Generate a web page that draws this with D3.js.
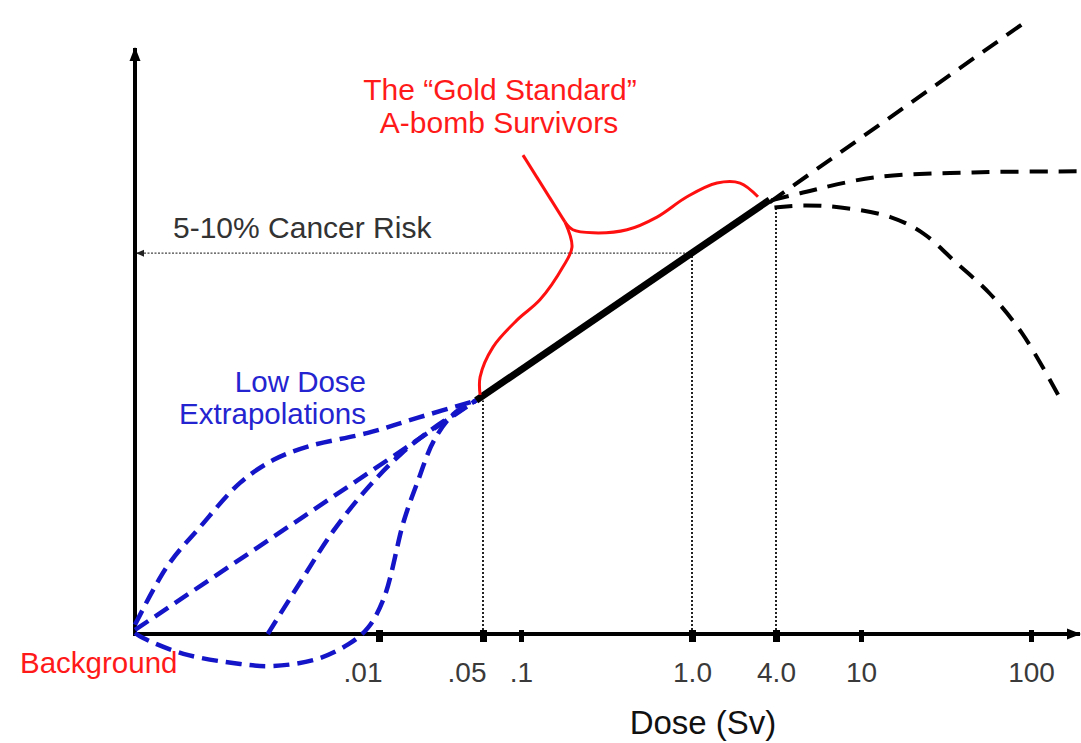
<!DOCTYPE html>
<html>
<head>
<meta charset="utf-8">
<script src="https://cdn.jsdelivr.net/npm/d3@7"></script>
<style>
    body { margin: 0; background: #fff; }
    text { font-family: "Liberation Sans", Arial, sans-serif; }
</style>
</head>
<body>
<div id="chart"></div>
<script>
// dose in Sv, risk in % excess cancer risk (schematic)
var doseTicks = [0.01, 0.05, 0.1, 1, 4, 10, 100];
var tickLabels = [".01", ".05", ".1", "1.0", "4.0", "10", "100"];
var backgroundDose = 0.001;
var riskLevel = 7.5;

var goldStandard = [[0.045, 4.6], [3.6, 8.55]];

var lowDoseSupraLinear = [[0.001, 0.18], [0.00135, 1.32], [0.00185, 2.11], [0.0027, 2.98], [0.0037, 3.43],
    [0.0051, 3.69], [0.009, 3.96], [0.0183, 4.26], [0.045, 4.6]];
var lowDoseLinear = [[0.001, 0.08], [0.045, 4.6]];
var lowDoseThreshold = [[0.0035, 0], [0.0048, 1.05], [0.0065, 2.03], [0.009, 2.88], [0.0141, 3.55],
    [0.0234, 4.06], [0.045, 4.6]];
var lowDoseHormesis = [[0.001, 0.02], [0.00108, -0.08], [0.00158, -0.39], [0.0027, -0.59], [0.0037, -0.63],
    [0.0056, -0.49], [0.0075, -0.2], [0.009, 0.12], [0.0108, 0.71], [0.0147, 2.23], [0.0183, 3.02],
    [0.0234, 3.81], [0.0319, 4.34], [0.045, 4.6]];

var highDoseLinear = [[3.6, 8.5], [97, 12.1]];
var highDosePlateau = [[3.7, 8.54], [5.2, 8.68], [11.9, 8.99], [45.4, 9.09], [193, 9.11]];
var highDoseCellKill = [[3.9, 8.4], [5.37, 8.44], [8.03, 8.4], [14.9, 8.21], [23.2, 7.89], [36.6, 7.3],
    [57, 6.71], [88.7, 5.92], [145.5, 4.69]];

var markerDoses = [0.05, 1.0, 4.0];
var markerRisks = [4.6, 7.5, 8.4];

// curly brace round the A-bomb survivor range
var braceTip = [[0.1027, 9.43], [0.181, 8.11]];
var braceLower = [[0.181, 8.11], [0.1987, 7.62], [0.176, 7.23], [0.129, 6.58], [0.0929, 6.18],
    [0.060, 5.65], [0.0478, 5.06], [0.0478, 4.71]];
var braceUpper = [[0.181, 8.11], [0.201, 7.96], [0.264, 7.9], [0.417, 7.96], [0.624, 8.21],
    [0.935, 8.61], [1.51, 8.88], [2.21, 8.88], [2.97, 8.61]];

function init() {
    var w = 1081;
    var h = 743;

    var svg = d3.select("#chart")
        .append("svg")
        .attr("width", w)
        .attr("height", h);

    var x = d3.scaleLog()
        .domain([backgroundDose].concat(doseTicks))
        .range([135, 379, 483, 521, 692, 776, 861, 1031]);
    var y = d3.scaleLinear()
        .domain([0, 11.5])
        .range([634, 50]);

    var defs = svg.append("defs");
    defs.append("marker")
        .attr("id", "arrow")
        .attr("markerUnits", "userSpaceOnUse")
        .attr("viewBox", "0 -6 14 12")
        .attr("refX", 13).attr("refY", 0)
        .attr("markerWidth", 14).attr("markerHeight", 12)
        .attr("orient", "auto")
        .append("path")
        .attr("d", "M0,-5.5L14,0L0,5.5Z")
        .attr("fill", "#000");
    defs.append("marker")
        .attr("id", "smallArrow")
        .attr("markerUnits", "userSpaceOnUse")
        .attr("viewBox", "0 -4 8 8")
        .attr("refX", 7).attr("refY", 0)
        .attr("markerWidth", 8).attr("markerHeight", 8)
        .attr("orient", "auto")
        .append("path")
        .attr("d", "M0,-3.5L8,0L0,3.5Z")
        .attr("fill", "#222");

    var line = d3.line()
        .x(function (d) { return x(d[0]); })
        .y(function (d) { return y(d[1]); });
    var smooth = d3.line()
        .x(function (d) { return x(d[0]); })
        .y(function (d) { return y(d[1]); })
        .curve(d3.curveCatmullRom.alpha(0.5));

    // dotted guide lines
    svg.append("line")
        .attr("x1", x(doseTicks[3])).attr("x2", x(backgroundDose) + 2)
        .attr("y1", y(riskLevel)).attr("y2", y(riskLevel))
        .attr("stroke", "#444").attr("stroke-width", 1.2)
        .attr("stroke-dasharray", "2,1.5")
        .attr("marker-end", "url(#smallArrow)");

    svg.selectAll(".guide")
        .data(markerDoses)
        .enter()
        .append("line")
        .attr("class", "guide")
        .attr("x1", function (d) { return x(d); })
        .attr("x2", function (d) { return x(d); })
        .attr("y1", y(0))
        .attr("y2", function (d, i) { return y(markerRisks[i]); })
        .attr("stroke", "#222").attr("stroke-width", 2)
        .attr("stroke-dasharray", "2,2");

    // axes
    svg.append("line")
        .attr("x1", x(backgroundDose)).attr("x2", x(backgroundDose))
        .attr("y1", y(0) + 2).attr("y2", 48)
        .attr("stroke", "#000").attr("stroke-width", 4)
        .attr("marker-end", "url(#arrow)");
    svg.append("line")
        .attr("x1", x(backgroundDose) - 2).attr("x2", w - 1)
        .attr("y1", y(0)).attr("y2", y(0))
        .attr("stroke", "#000").attr("stroke-width", 4)
        .attr("marker-end", "url(#arrow)");

    var xAxis = d3.axisBottom(x)
        .tickValues(doseTicks)
        .tickSize(12)
        .tickPadding(20)
        .tickFormat(function (d, i) { return tickLabels[i]; });

    var gx = svg.append("g")
        .attr("transform", "translate(0," + (y(0) - 4) + ")")
        .call(xAxis);
    gx.select(".domain").remove();
    gx.selectAll(".tick line")
        .attr("stroke", "#000")
        .attr("stroke-width", function (d) { return d === 0.05 || d === 0.01 || d === 1 || d === 4 ? 7 : 5; });
    gx.selectAll(".tick text")
        .attr("font-family", "'Liberation Sans', Arial, sans-serif")
        .attr("font-size", "28px")
        .attr("fill", "#3a3a3a");
    gx.selectAll(".tick text")
        .filter(function (d) { return d === 0.05 || d === 0.01; })
        .attr("text-anchor", "end")
        .attr("x", 3);

    svg.append("text")
        .attr("x", 703).attr("y", 734)
        .attr("text-anchor", "middle")
        .attr("font-size", "33px")
        .attr("fill", "#111")
        .text("Dose (Sv)");

    // low dose extrapolations
    [lowDoseSupraLinear, lowDoseLinear, lowDoseThreshold, lowDoseHormesis].forEach(function (s) {
        svg.append("path")
            .attr("d", smooth(s))
            .attr("fill", "none")
            .attr("stroke", "#1414c8")
            .attr("stroke-width", 4.5)
            .attr("stroke-dasharray", "16,8");
    });

    // high dose extrapolations
    [highDoseLinear, highDosePlateau, highDoseCellKill].forEach(function (s) {
        svg.append("path")
            .attr("d", smooth(s))
            .attr("fill", "none")
            .attr("stroke", "#000")
            .attr("stroke-width", 4)
            .attr("stroke-dasharray", "18,11");
    });

    // A-bomb survivor data range
    svg.append("path")
        .attr("d", line(goldStandard))
        .attr("fill", "none")
        .attr("stroke", "#000")
        .attr("stroke-width", 7);

    // brace
    svg.append("path")
        .attr("d", line(braceTip))
        .attr("fill", "none").attr("stroke", "#ff1010").attr("stroke-width", 3);
    [braceLower, braceUpper].forEach(function (s) {
        svg.append("path")
            .attr("d", smooth(s))
            .attr("fill", "none")
            .attr("stroke", "#ff1010")
            .attr("stroke-width", 3);
    });

    // labels
    svg.append("text")
        .attr("x", 500).attr("y", 100)
        .attr("text-anchor", "middle")
        .attr("font-size", "30px")
        .attr("fill", "#ff1a1a")
        .text("The \u201CGold Standard\u201D");
    svg.append("text")
        .attr("x", 499).attr("y", 133)
        .attr("text-anchor", "middle")
        .attr("font-size", "30px")
        .attr("fill", "#ff1a1a")
        .text("A-bomb Survivors");

    svg.append("text")
        .attr("x", 173).attr("y", 238)
        .attr("font-size", "30px")
        .attr("fill", "#333")
        .text("5-10% Cancer Risk");

    svg.append("text")
        .attr("x", 366).attr("y", 392)
        .attr("text-anchor", "end")
        .attr("font-size", "29.5px")
        .attr("fill", "#2424d0")
        .text("Low Dose");
    svg.append("text")
        .attr("x", 366).attr("y", 424)
        .attr("text-anchor", "end")
        .attr("font-size", "29.5px")
        .attr("fill", "#2424d0")
        .text("Extrapolations");

    svg.append("text")
        .attr("x", 20).attr("y", 673)
        .attr("font-size", "29.5px")
        .attr("fill", "#ff1a1a")
        .text("Background");
}
window.onload = init;
</script>
</body>
</html>
